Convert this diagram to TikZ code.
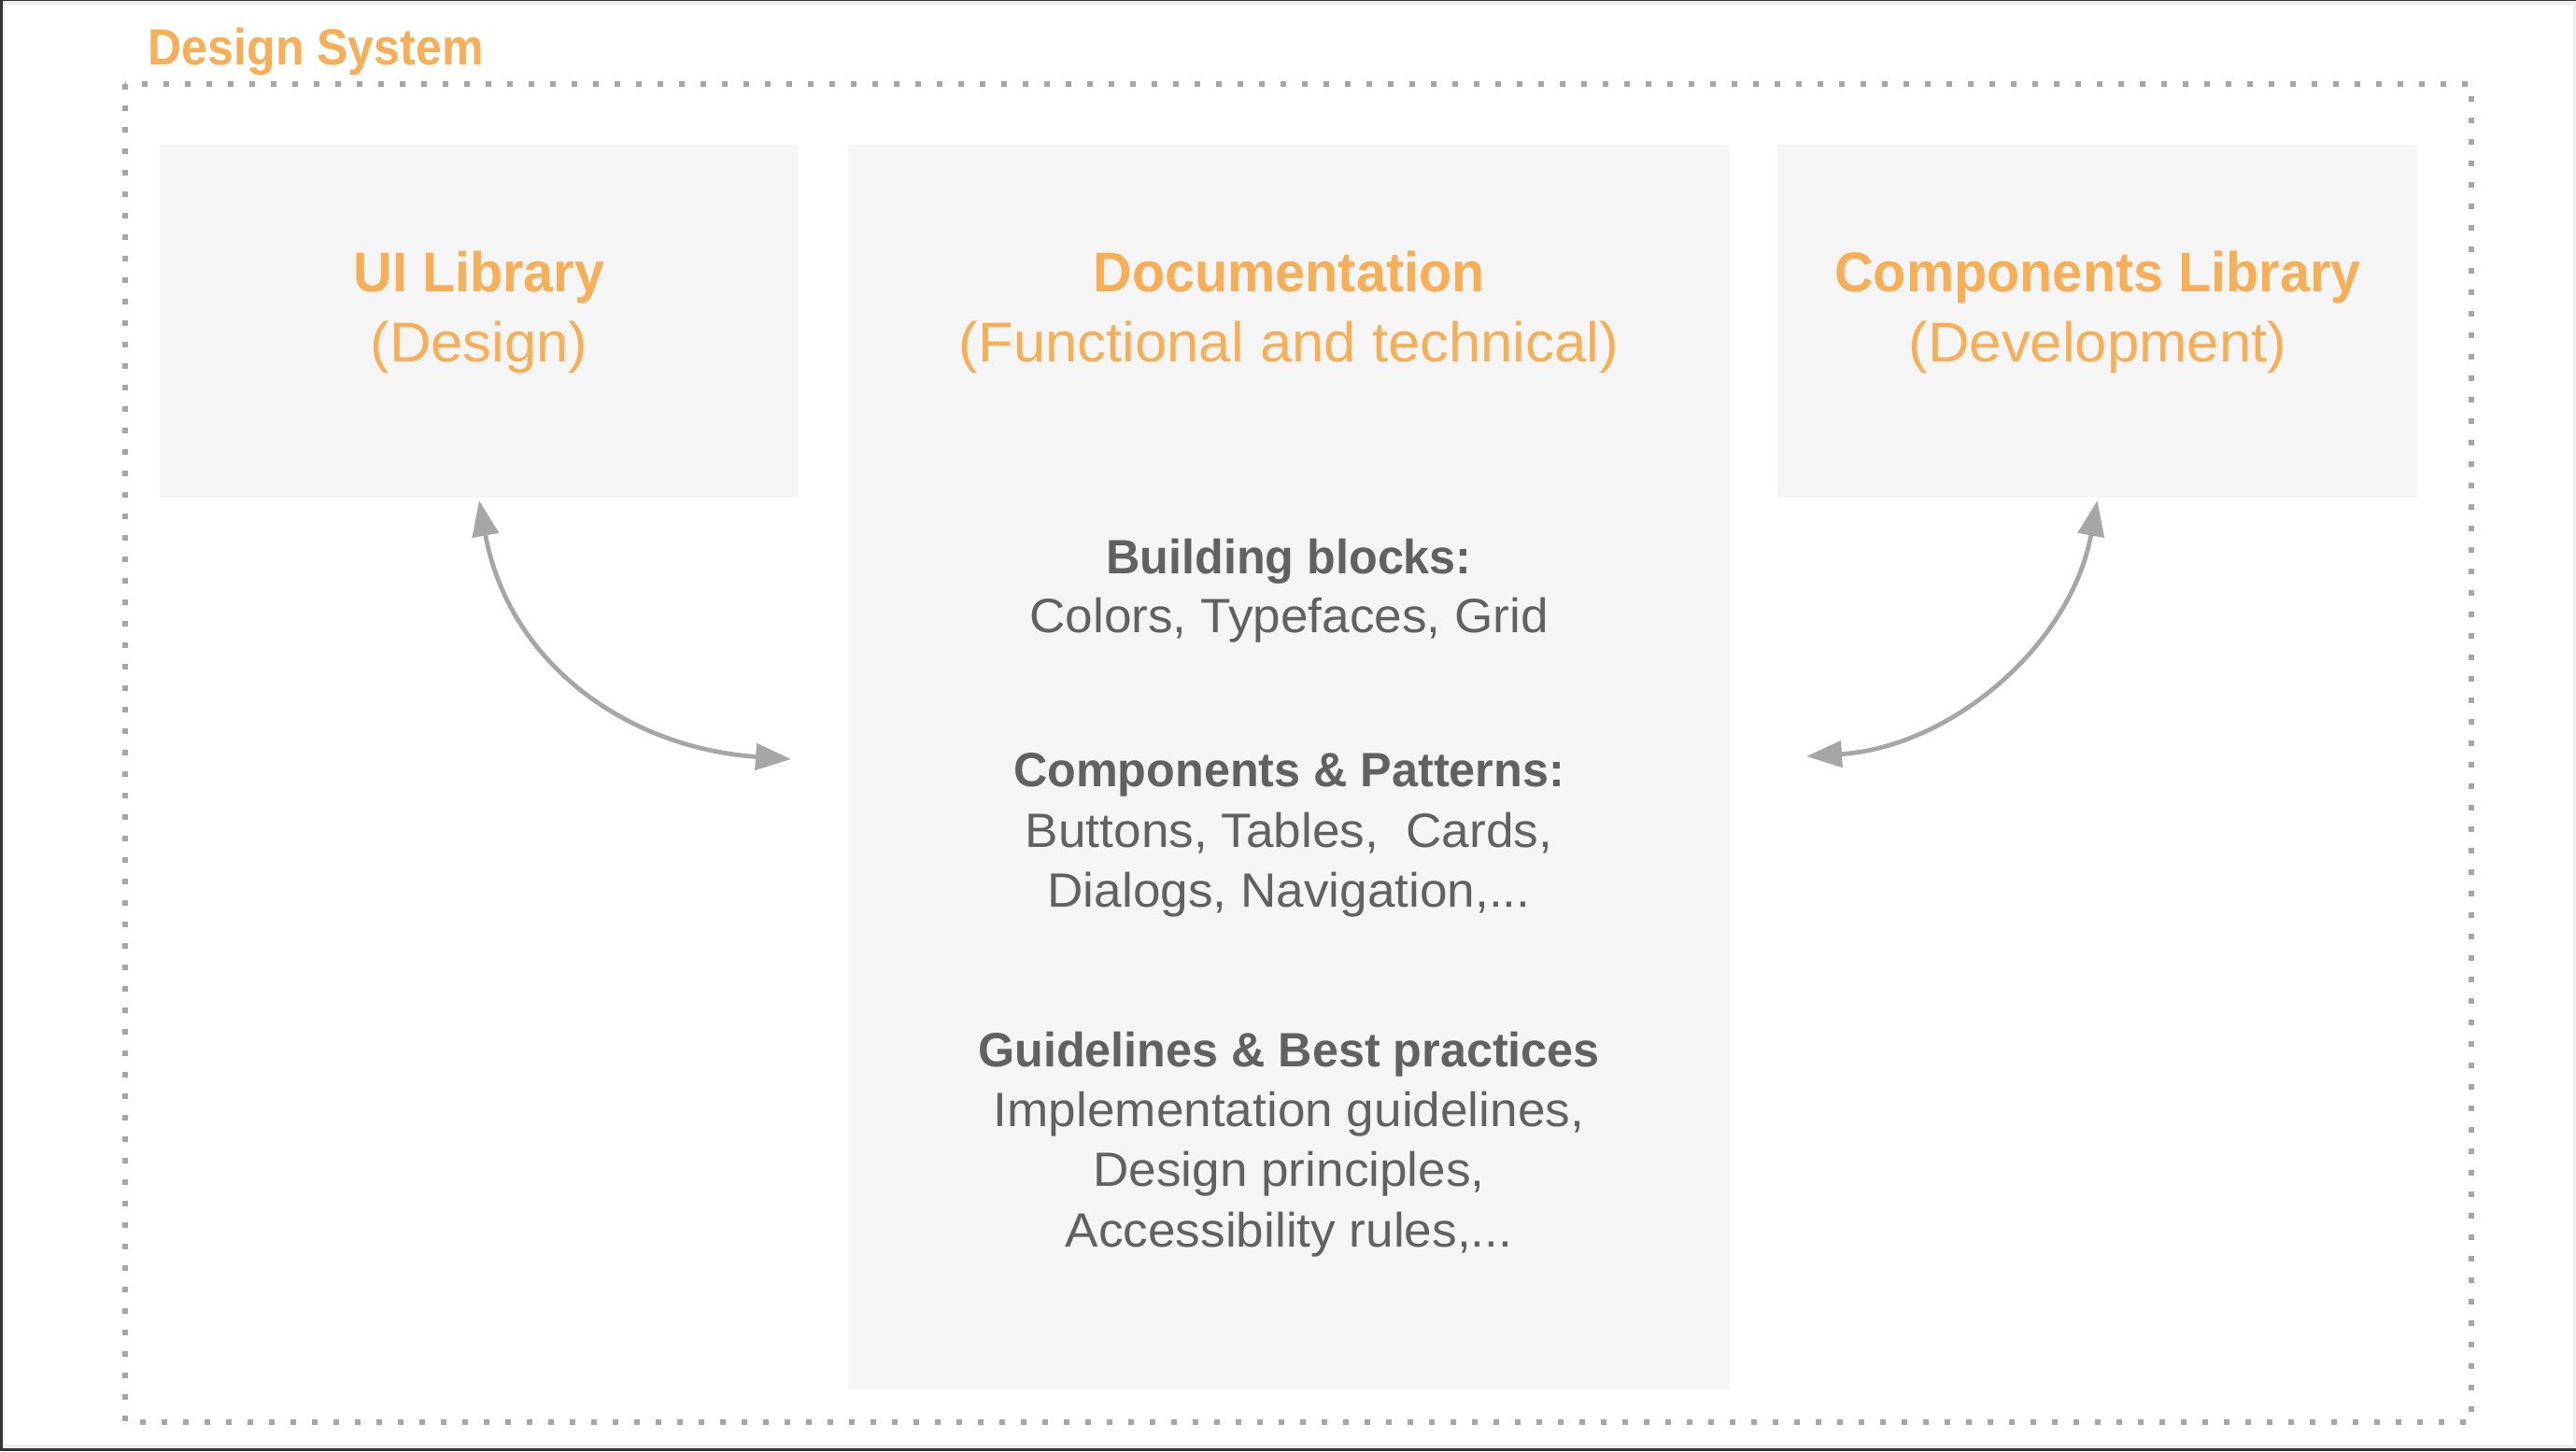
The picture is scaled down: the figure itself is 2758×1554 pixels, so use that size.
\documentclass[tikz,border=0pt]{standalone}
\usepackage{fontspec}
\setmainfont{Liberation Sans}[FakeStretch=1.028, BoldFeatures={FakeStretch=0.96}]
\newfontfamily\bodyfont{Liberation Sans}[FakeStretch=1.03, BoldFeatures={FakeStretch=0.975}]
\newfontfamily\dsfont{Liberation Sans}[BoldFeatures={FakeStretch=0.92}]
\usetikzlibrary{arrows.meta}
\definecolor{dsorange}{HTML}{F6AF56}
\definecolor{dstext}{HTML}{616161}
\definecolor{dsbox}{HTML}{F5F5F5}
\definecolor{dsline}{HTML}{A6A6A6}
\definecolor{dsframe}{HTML}{333333}
\definecolor{dsframein}{HTML}{EEEEEE}
\tikzset{
  boxnode/.style={fill=dsbox, draw=none, inner sep=0pt, outer sep=0pt},
  ttl/.style={anchor=base, inner sep=0pt, text=dsorange, font=\fontsize{15}{18}\selectfont\bfseries},
  sub/.style={anchor=base, inner sep=0pt, text=dsorange, font=\fontsize{15}{18}\selectfont},
  hd/.style={anchor=base, inner sep=0pt, text=dstext, font=\bodyfont\fontsize{12.9}{16}\selectfont\bfseries},
  bd/.style={anchor=base, inner sep=0pt, text=dstext, font=\bodyfont\fontsize{12.9}{16}\selectfont},
  dotframe/.style={draw=dsline, line width=1.4pt, dash pattern=on 1.4pt off 4.35pt},
  arr/.style={draw=dsline, line width=1.2pt, {Triangle[length=9.5pt,width=7pt]}-{Triangle[length=9.5pt,width=7pt]}}
}
\begin{document}
\begin{tikzpicture}[x=0.25pt, y=-0.25pt]
\useasboundingbox (0,0) rectangle (2758,1554);
% outer frame
\fill[dsframe] (0,0) rectangle (2758,1554);
\fill[dsframein] (3,1) rectangle (2758,1551);
\fill[white] (5,5) rectangle (2755,1547);
% dotted system frame
\draw[dotframe] (134,90) rectangle (2646,1523);
\node[anchor=base west, inner sep=0pt, text=dsorange, font=\dsfont\fontsize{13.6}{16}\selectfont\bfseries] (dstitle) at (158,69) {Design System};
% boxes
\node[boxnode, minimum width=171pt, minimum height=94.5pt] (ui) at (513,344) {};
\node[boxnode, minimum width=236pt, minimum height=333.25pt] (doc) at (1380,821.5) {};
\node[boxnode, minimum width=171.25pt, minimum height=94.5pt] (cl) at (2245.5,344) {};
% titles
\node[ttl] (uit) at (513,312) {UI Library};
\node[sub] (uis) at (513,387) {(Design)};
\node[ttl] (doct) at (1380,312) {Documentation};
\node[sub] (docs) at (1380,387) {(Functional and technical)};
\node[ttl] (clt) at (2246,312) {Components Library};
\node[sub] (cls) at (2246,387) {(Development)};
% documentation content
\node[hd] (bbh) at (1380,614) {Building blocks:};
\node[bd] (bb1) at (1380,677) {Colors, Typefaces, Grid};
\node[hd] (cph) at (1380,842) {Components \& Patterns:};
\node[bd] (cp1) at (1380,907) {Buttons, Tables,~ Cards,};
\node[bd] (cp2) at (1380,971) {Dialogs, Navigation,...};
\node[hd] (gbh) at (1380,1142) {Guidelines \& Best practices};
\node[bd] (gb1) at (1380,1206) {Implementation guidelines,};
\node[bd] (gb2) at (1380,1270) {Design principles,};
\node[bd] (gb3) at (1380,1335) {Accessibility rules,...};
% arrows
\coordinate (lend) at (847,813);
\coordinate (rend) at (1934,810);
\draw[arr] ([yshift=-0.75pt]ui.south) .. controls (545,711) and (672,801) .. (lend);
\draw[arr] ([yshift=-0.75pt]cl.south) .. controls (2217,691) and (2089,800) .. (rend);
\end{tikzpicture}
\end{document}
